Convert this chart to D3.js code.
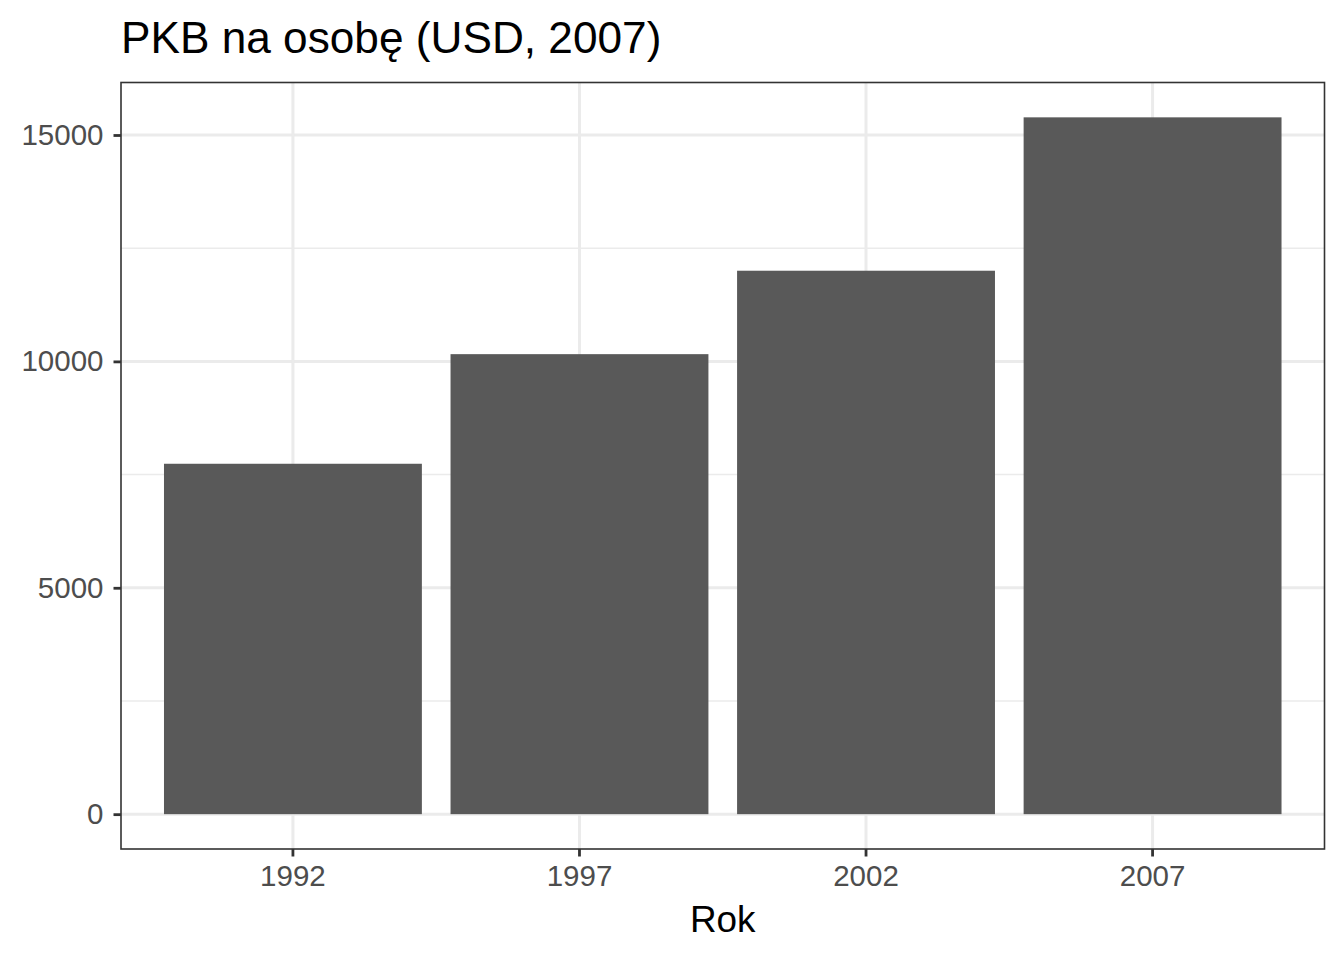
<!DOCTYPE html>
<html>
<head>
<meta charset="utf-8">
<script src="https://cdn.jsdelivr.net/npm/d3@7"></script>
<style>
  html, body { margin: 0; padding: 0; background: #ffffff; }
  svg { display: block; }
</style>
</head>
<body>
<script>
// ---- data ----
const years = ["1992", "1997", "2002", "2007"];
const gdpPerCapita = [7738.881, 10159.58, 12002.24, 15389.92];
const yTicks = [0, 5000, 10000, 15000];
const yMinorTicks = [2500, 7500, 12500];
const titleText = "PKB na osobę (USD, 2007)";
const xTitleText = "Rok";

// ---- layout ----
const W = 1344, H = 960;
const panel = { left: 121, right: 1324.5, top: 82.5, bottom: 849 };
const fontFamily = "'Liberation Sans', Arial, Helvetica, sans-serif";

const svg = d3.select("body").append("svg")
  .attr("width", W).attr("height", H)
  .attr("viewBox", `0 0 ${W} ${H}`);

svg.append("rect").attr("width", W).attr("height", H).attr("fill", "#ffffff");

const yMax = d3.max(gdpPerCapita);
const y = d3.scaleLinear()
  .domain([-0.05 * yMax, 1.05 * yMax])
  .range([panel.bottom, panel.top]);

const x = d3.scaleBand()
  .domain(years)
  .range([panel.left, panel.right])
  .paddingInner(0.1)
  .paddingOuter(0.15);

const data = years.map((yr, i) => ({ year: yr, value: gdpPerCapita[i] }));

// panel background
svg.append("rect")
  .attr("x", panel.left).attr("y", panel.top)
  .attr("width", panel.right - panel.left).attr("height", panel.bottom - panel.top)
  .attr("fill", "#ffffff");

const grid = svg.append("g");
// minor horizontal gridlines
grid.selectAll("line.minor").data(yMinorTicks).join("line")
  .attr("class", "minor")
  .attr("x1", panel.left).attr("x2", panel.right)
  .attr("y1", d => y(d)).attr("y2", d => y(d))
  .attr("stroke", "#EBEBEB").attr("stroke-width", 1.5);
// major horizontal
grid.selectAll("line.majorY").data(yTicks).join("line")
  .attr("class", "majorY")
  .attr("x1", panel.left).attr("x2", panel.right)
  .attr("y1", d => y(d)).attr("y2", d => y(d))
  .attr("stroke", "#EBEBEB").attr("stroke-width", 3);
// major vertical
grid.selectAll("line.majorX").data(years).join("line")
  .attr("class", "majorX")
  .attr("y1", panel.top).attr("y2", panel.bottom)
  .attr("x1", d => x(d) + x.bandwidth() / 2).attr("x2", d => x(d) + x.bandwidth() / 2)
  .attr("stroke", "#EBEBEB").attr("stroke-width", 3);

// bars
svg.append("g").selectAll("rect").data(data).join("rect")
  .attr("x", d => x(d.year))
  .attr("width", x.bandwidth())
  .attr("y", d => y(d.value))
  .attr("height", d => y(0) - y(d.value))
  .attr("fill", "#595959");

// panel border
svg.append("rect")
  .attr("x", panel.left).attr("y", panel.top)
  .attr("width", panel.right - panel.left).attr("height", panel.bottom - panel.top)
  .attr("fill", "none").attr("stroke", "#333333").attr("stroke-width", 1.6);

// y axis
const yAxis = d3.axisLeft(y).tickValues(yTicks).tickFormat(d3.format("d"))
  .tickSize(7.5).tickPadding(10);
const gy = svg.append("g").attr("transform", `translate(${panel.left},0)`).call(yAxis);
gy.select(".domain").remove();
gy.selectAll(".tick line").attr("stroke", "#333333").attr("stroke-width", 2.8);
gy.selectAll(".tick text")
  .attr("fill", "#4D4D4D")
  .style("font-family", fontFamily)
  .style("font-size", "29.5px");

// x axis
const xAxis = d3.axisBottom(x).tickSize(7.5).tickPadding(9);
const gx = svg.append("g").attr("transform", `translate(0,${panel.bottom})`).call(xAxis);
gx.select(".domain").remove();
gx.selectAll(".tick line").attr("stroke", "#333333").attr("stroke-width", 2.8);
gx.selectAll(".tick text")
  .attr("fill", "#4D4D4D")
  .style("font-family", fontFamily)
  .style("font-size", "29.5px");

// x axis title
svg.append("text")
  .attr("x", (panel.left + panel.right) / 2)
  .attr("y", 931.5)
  .attr("text-anchor", "middle")
  .attr("fill", "#000000")
  .style("font-family", fontFamily)
  .style("font-size", "36.9px")
  .text(xTitleText);

// title
svg.append("text")
  .attr("x", panel.left)
  .attr("y", 53)
  .attr("fill", "#000000")
  .style("font-family", fontFamily)
  .style("font-size", "44.2px")
  .text(titleText);
</script>
</body>
</html>
